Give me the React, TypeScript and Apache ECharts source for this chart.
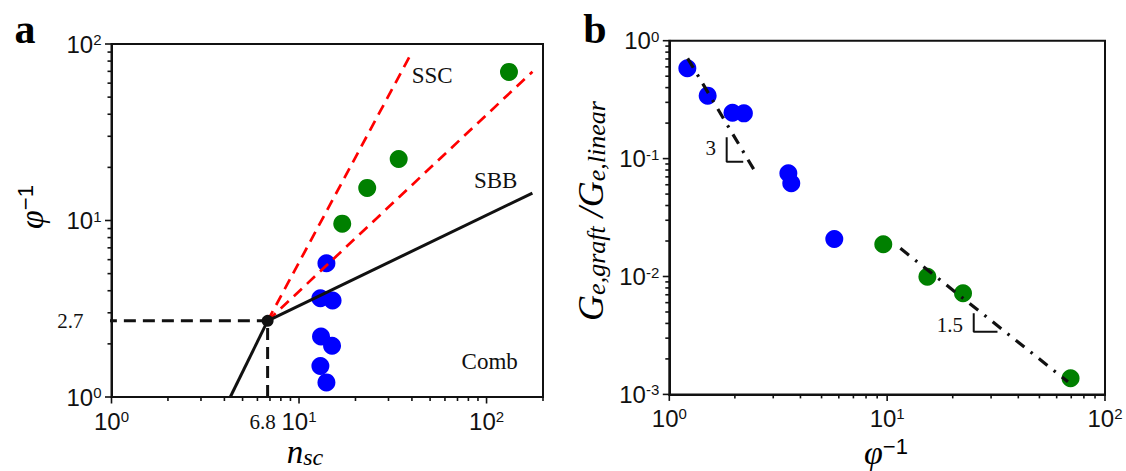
import React, { useEffect, useRef } from "react";
import * as echarts from "echarts";

// ---------- Panel a: state diagram (n_sc vs φ^-1) ----------
const nscBlue = [14.0, 13.0, 15.0, 13.1, 15.1, 13.0, 14.0];
const phiInvBlue = [1.21, 1.5, 1.95, 2.2, 3.52, 3.63, 5.72];
const nscGreen = [17.0, 23.1, 34.0, 131.7];
const phiInvGreen = [9.6, 15.3, 22.3, 69.5];

// regime boundaries meeting at the crossover point
const junction = [6.8, 2.7];
const combBoundary = [[4.3, 1], [6.8, 2.7]];
const sbbBoundary = [[6.8, 2.7], [175.6, 14.3]];
const sscUpperBoundary = [[6.8, 2.7], [39.3, 86.7]];
const sscLowerBoundary = [[6.8, 2.7], [175.7, 69.7]];
const guideHorizontal = [[0.73, 2.7], [6.8, 2.7]];
const guideVertical = [[6.8, 1], [6.8, 2.7]];

const regimeNames = ["SSC", "SBB", "Comb"];
const regimeNamePos = [[51.3, 66.7], [111.9, 16.96], [103.9, 1.58]];

// ---------- Panel b: G_e,graft / G_e,linear vs φ^-1 ----------
const ratioBlue = [0.583, 0.342, 0.245, 0.242, 0.075, 0.0617, 0.0208];
const ratioGreen = [0.01875, 0.00996, 0.0072, 0.00137];
const slope3Fit = [[1.214, 0.709], [2.53, 0.0726]];
const slope15Fit = [[11.5, 0.01734], [67.6, 0.00128]];
const slope3Triangle = [[1.834, 0.1517], [1.834, 0.0941], [2.185, 0.0941]];
const slope15Triangle = [[24.97, 0.00487], [24.97, 0.0034], [32.1, 0.0034]];
const slopeNames = ["3", "1.5"];
const slopeNamePos = [[1.549, 0.1223], [19.4, 0.00388]];

// axis ranges
const xRangeA = [1, 200];
const yRangeA = [1, 100];
const xRangeB = [1, 100];
const yRangeB = [0.001, 1];

const INK = "#111";
const BLUE = "#0000ff";
const GREEN = "#008000";
const RED = "#ff0000";
const SERIF = '"Liberation Serif", "Times New Roman", serif';
const SANS = '"Liberation Sans", Arial, sans-serif';

// 1..9 × 10^k ticks inside [lo, hi]; flag 1 marks decades
function logTicks(lo: number, hi: number): number[][] {
  const out: number[][] = [];
  for (let e = Math.floor(Math.log10(lo)); Math.pow(10, e) <= hi * 1.0001; e++) {
    for (let m = 1; m < 10; m++) {
      const v = m * Math.pow(10, e);
      if (v >= lo * 0.9999 && v <= hi * 1.0001) out.push([v, m === 1 ? 1 : 0]);
    }
  }
  return out;
}

function powerLabel(v: number): string {
  const l = Math.log10(v);
  const e = Math.round(l);
  if (Math.abs(l - e) > 1e-6) return "";
  return `{b|10}{s|${e < 0 ? "-" + -e : e}}`;
}

const tickRich = {
  b: { fontFamily: SANS, fontSize: 24, color: INK, lineHeight: 24, verticalAlign: "bottom" },
  s: { fontFamily: SANS, fontSize: 15, color: INK, lineHeight: 15, verticalAlign: "top" },
};

function axisBase(gridIndex: number, range: number[], margin: number) {
  return {
    type: "log",
    logBase: 10,
    gridIndex,
    min: range[0],
    max: range[1],
    axisLine: { show: true, lineStyle: { color: INK, width: 2 } },
    axisTick: { show: false },
    minorTick: { show: false },
    splitLine: { show: false },
    axisLabel: { formatter: powerLabel, rich: tickRich, margin },
  };
}

function tickSeries(gridIndex: number, xr: number[], yr: number[]) {
  const data = [
    ...logTicks(xr[0], xr[1]).map(([v, major]) => [v, yr[0], 0, major]),
    ...logTicks(yr[0], yr[1]).map(([v, major]) => [xr[0], v, 1, major]),
  ];
  return {
    type: "custom",
    xAxisIndex: gridIndex,
    yAxisIndex: gridIndex,
    silent: true,
    z: 1,
    data,
    renderItem: (_p: any, api: any) => {
      const p = api.coord([api.value(0), api.value(1)]);
      const len = api.value(3) ? 6.5 : 4;
      const alongX = api.value(2) === 0;
      return {
        type: "line",
        shape: alongX
          ? { x1: p[0], y1: p[1], x2: p[0], y2: p[1] + len }
          : { x1: p[0] - len, y1: p[1], x2: p[0], y2: p[1] },
        style: { stroke: INK, lineWidth: 1.6 },
      };
    },
  };
}

function textSeries(
  gridIndex: number,
  names: string[],
  pos: number[][],
  font: string,
  dx = 0,
  dy = 0,
  align = "center"
) {
  return {
    type: "custom",
    xAxisIndex: gridIndex,
    yAxisIndex: gridIndex,
    silent: true,
    z: 6,
    data: pos,
    renderItem: (params: any, api: any) => {
      const p = api.coord([api.value(0), api.value(1)]);
      return {
        type: "text",
        x: p[0] + dx,
        y: p[1] + dy,
        style: {
          text: names[params.dataIndex],
          font,
          fill: INK,
          align,
          verticalAlign: "middle",
        },
      };
    },
  };
}

function lineSeries(
  gridIndex: number,
  data: number[][],
  color: string,
  width: number,
  type: any,
  z = 3
) {
  return {
    type: "line",
    xAxisIndex: gridIndex,
    yAxisIndex: gridIndex,
    data,
    symbol: "none",
    clip: false,
    silent: true,
    z,
    lineStyle: { color, width, type, cap: "butt" },
  };
}

function scatterSeries(gridIndex: number, data: number[][], color: string, size = 18, z = 2) {
  return {
    type: "scatter",
    xAxisIndex: gridIndex,
    yAxisIndex: gridIndex,
    data,
    symbol: "circle",
    symbolSize: size,
    silent: true,
    z,
    itemStyle: { color, opacity: 1 },
  };
}

const nameRich = {
  v: { fontFamily: SERIF, fontStyle: "italic", fontSize: 33, color: INK, lineHeight: 33, verticalAlign: "top" },
  sub: {
    fontFamily: SERIF,
    fontStyle: "italic",
    fontSize: 24,
    color: INK,
    lineHeight: 24,
    verticalAlign: "bottom",
    padding: [17, 0, 0, 0],
  },
  V: { fontFamily: SERIF, fontStyle: "italic", fontSize: 36, color: INK, lineHeight: 36, verticalAlign: "top" },
  SUB: {
    fontFamily: SERIF,
    fontStyle: "italic",
    fontSize: 26,
    color: INK,
    lineHeight: 26,
    verticalAlign: "bottom",
    padding: [18, 0, 0, 0],
  },
  p: { fontFamily: SERIF, fontStyle: "italic", fontSize: 34, color: INK, lineHeight: 34, verticalAlign: "bottom" },
  sup: { fontFamily: SANS, fontSize: 22, color: INK, lineHeight: 22, verticalAlign: "top" },
};

export default function App() {
  const ref = useRef<HTMLDivElement>(null);

  useEffect(() => {
    if (!ref.current) return;
    const chart = echarts.init(ref.current, null, { renderer: "svg" });

    const option: any = {
      animation: false,
      backgroundColor: "#ffffff",
      grid: [
        { left: 111.5, top: 44, width: 431.5, height: 353, show: true, borderColor: INK, borderWidth: 2 },
        { left: 669.3, top: 40.7, width: 435.7, height: 353.7, show: true, borderColor: INK, borderWidth: 2 },
      ],
      xAxis: [axisBase(0, xRangeA, 12), axisBase(1, xRangeB, 12)],
      yAxis: [axisBase(0, yRangeA, 10), axisBase(1, yRangeB, 10)],
      series: [
        tickSeries(0, xRangeA, yRangeA),
        tickSeries(1, xRangeB, yRangeB),

        // panel a
        scatterSeries(0, nscBlue.map((x, i) => [x, phiInvBlue[i]]), BLUE),
        scatterSeries(0, nscGreen.map((x, i) => [x, phiInvGreen[i]]), GREEN),
        lineSeries(0, sscUpperBoundary, RED, 2.7, [11, 7]),
        lineSeries(0, sscLowerBoundary, RED, 2.7, [11, 7]),
        lineSeries(0, combBoundary, INK, 3, "solid"),
        lineSeries(0, sbbBoundary, INK, 3, "solid"),
        lineSeries(0, guideHorizontal, INK, 3, [12, 7]),
        lineSeries(0, guideVertical, INK, 3, [12, 7]),
        scatterSeries(0, [junction], INK, 12, 5),
        textSeries(0, regimeNames, regimeNamePos, `23px ${SERIF}`),
        textSeries(0, [String(junction[0])], [[junction[0], yRangeA[0]]], `21px ${SERIF}`, -5, 25),
        textSeries(0, [String(junction[1])], [[xRangeA[0], junction[1]]], `21px ${SERIF}`, -28, 0, "right"),

        // panel b
        scatterSeries(1, phiInvBlue.map((x, i) => [x, ratioBlue[i]]), BLUE),
        scatterSeries(1, phiInvGreen.map((x, i) => [x, ratioGreen[i]]), GREEN),
        lineSeries(1, slope3Fit, INK, 3.2, [11, 8, 2.5, 8]),
        lineSeries(1, slope15Fit, INK, 3.2, [11, 8, 2.5, 8]),
        lineSeries(1, slope3Triangle, INK, 2, "solid"),
        lineSeries(1, slope15Triangle, INK, 2, "solid"),
        textSeries(1, slopeNames, slopeNamePos, `21px ${SERIF}`),
      ],
      graphic: [
        { type: "text", x: 25, y: 29, style: { text: "a", font: `bold 42px ${SERIF}`, fill: "#000", align: "center", verticalAlign: "middle" } },
        { type: "text", x: 595, y: 29, style: { text: "b", font: `bold 42px ${SERIF}`, fill: "#000", align: "center", verticalAlign: "middle" } },
        {
          type: "text",
          x: 31,
          y: 207,
          rotation: Math.PI / 2,
          style: { text: "{p|φ}{sup|−1}", rich: nameRich, align: "center", verticalAlign: "middle" },
        },
        {
          type: "text",
          x: 305,
          y: 452,
          style: { text: "{v|n}{sub|sc}", rich: nameRich, align: "center", verticalAlign: "middle" },
        },
        {
          type: "text",
          x: 886,
          y: 452,
          style: { text: "{p|φ}{sup|−1}", rich: nameRich, align: "center", verticalAlign: "middle" },
        },
        {
          type: "text",
          x: 591,
          y: 211,
          rotation: Math.PI / 2,
          style: {
            text: "{V|G}{SUB|e,graft}{V| /}{V|G}{SUB|e,linear}",
            rich: nameRich,
            align: "center",
            verticalAlign: "middle",
          },
        },
      ],
    };

    chart.setOption(option);
    return () => chart.dispose();
  }, []);

  return (
    <div
      ref={ref}
      style={{ position: "fixed", left: 0, top: 0, width: 1126, height: 471, background: "#fff" }}
    />
  );
}
